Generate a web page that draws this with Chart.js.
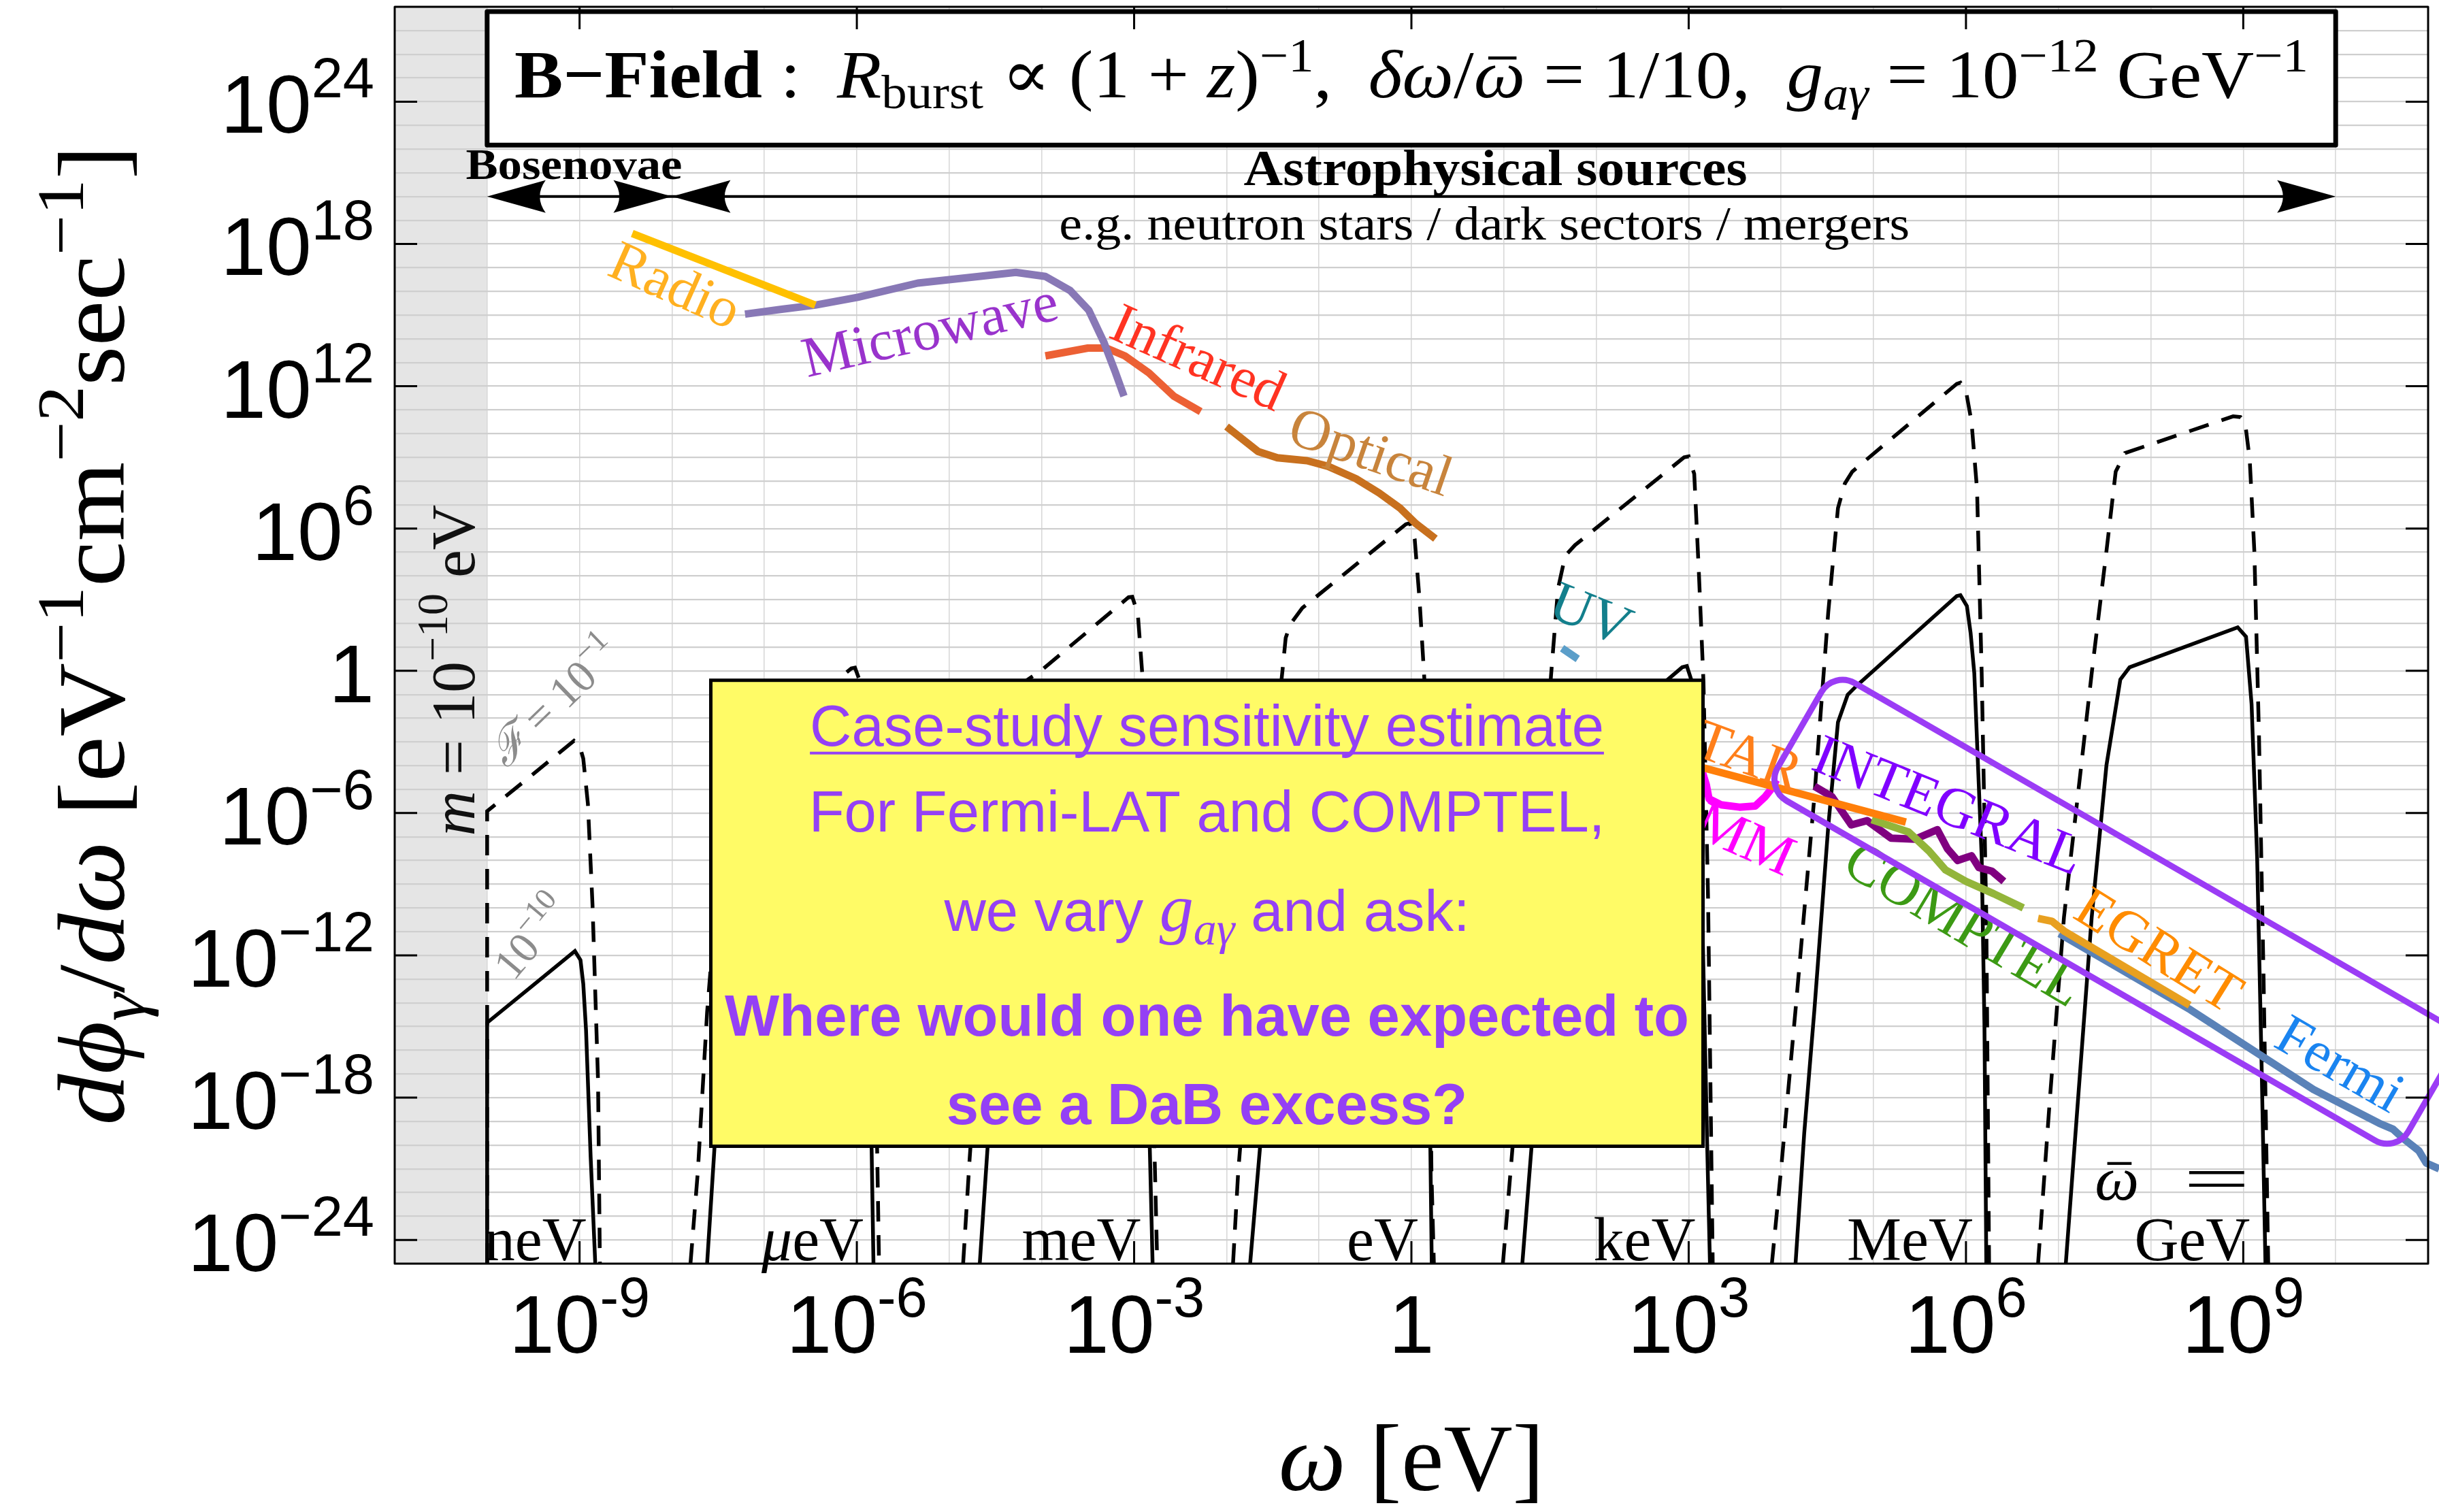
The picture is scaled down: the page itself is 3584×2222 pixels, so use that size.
<!DOCTYPE html>
<html><head><meta charset="utf-8">
<script src="https://cdn.jsdelivr.net/npm/chart.js@4.4.1/dist/chart.umd.min.js"></script>
<style>html,body{margin:0;padding:0;background:#fff;}canvas{display:block;}</style>
</head><body>
<canvas id="c" width="3584" height="2222" style="width:3584px;height:2222px"></canvas>
<script>
// ================= DATA (all values are log10: x = log10(ω/eV), y = log10(dφγ/dω)) =================
const xExpRange = [-11, 11];
const yExpRange = [-25, 28];
const bandExp = [-11, -10];                       // m = 1e-10 eV excluded band
const xTickExps = [-9, -6, -3, 0, 3, 6, 9];
const yTickExps = [24, 18, 12, 6, 0, -6, -12, -18, -24];
const xTickLabels = [['10','-9'],['10','-6'],['10','-3'],['1',''],['10','3'],['10','6'],['10','9']];
const yTickLabels = [['10','24'],['10','18'],['10','12'],['10','6'],['1',''],['10','−6'],['10','−12'],['10','−18'],['10','−24']];
const unitLabels = ['neV','μeV','meV','eV','keV','MeV','GeV'];
const unitExps = [-9, -6, -3, 0, 3, 6, 9];

// DaB signal curves, ℱ = 1e-1 (dashed) and ℱ = 1e-10 (solid)
const neV_F1  = [[-10,-25],[-10,-5.92],[-9.5,-4.35],[-9.06,-2.95],[-9.0,-3.15],[-8.96,-3.7],[-8.91,-5.6],[-8.86,-9.85],[-8.8,-17.3],[-8.78,-25]];
const neV_F10 = [[-10,-25],[-10,-14.84],[-9.5,-13.25],[-9.05,-11.82],[-8.99,-12.2],[-8.96,-13.2],[-8.93,-15.15],[-8.88,-20.5],[-8.83,-25]];
const ueV_F1  = [[-7.8,-25],[-7.72,-21.1],[-7.62,-14.4],[-7.52,-9.6],[-7.44,-6.0],[-7.38,-4.6],[-7.3,-3.9],[-7.2,-3.55],[-6.06,0.1],[-6.02,0.13],[-5.97,-0.4],[-5.93,-2.6],[-5.88,-6.6],[-5.83,-12.5],[-5.78,-20.25],[-5.76,-25]];
const ueV_F10 = [[-7.62,-25],[-7.54,-20.1],[-7.44,-15.0],[-7.38,-13.6],[-7.3,-12.9],[-7.2,-12.55],[-6.06,-8.9],[-6.02,-8.87],[-5.97,-9.4],[-5.93,-11.6],[-5.88,-15.6],[-5.84,-20.2],[-5.82,-25]];
const meV_F1  = [[-4.85,-25],[-4.78,-20.6],[-4.67,-14.5],[-4.57,-10.2],[-4.48,-6.3],[-4.4,-2.4],[-4.32,-1.1],[-4.2,-0.5],[-4.0,0.03],[-3.06,3.1],[-3.02,3.12],[-2.96,2.4],[-2.91,-0.23],[-2.86,-5],[-2.82,-11.5],[-2.78,-20.2],[-2.75,-25]];
const meV_F10 = [[-4.67,-25],[-4.57,-19.2],[-4.48,-15.3],[-4.4,-11.4],[-4.32,-10.1],[-4.2,-9.5],[-4.0,-8.97],[-3.06,-5.9],[-3.02,-5.88],[-2.97,-6.5],[-2.92,-9],[-2.87,-14],[-2.83,-20.2],[-2.8,-25]];
const eV_F1   = [[-1.93,-25],[-1.875,-21.2],[-1.76,-15.5],[-1.64,-11.2],[-1.49,-3.4],[-1.395,0.0],[-1.36,1.39],[-1.31,1.96],[-1.18,2.65],[-0.06,6.18],[-0.015,6.23],[0.036,5.54],[0.088,3.0],[0.14,-0.34],[0.18,-8.5],[0.217,-21.2],[0.243,-25]];
const eV_F10  = [[-1.745,-25],[-1.64,-20.2],[-1.49,-12.4],[-1.395,-9.0],[-1.36,-7.6],[-1.31,-7.05],[-1.18,-6.35],[-0.06,-2.82],[-0.015,-2.78],[0.03,-3.45],[0.08,-6.0],[0.13,-9.4],[0.17,-15],[0.205,-20.2],[0.22,-25]];
const keV_F1  = [[0.99,-25],[1.095,-20.06],[1.16,-17.4],[1.36,-8.4],[1.51,-0.23],[1.586,3.46],[1.664,4.85],[1.77,5.3],[2.95,9.0],[3.0,9.04],[3.06,8.3],[3.11,4.15],[3.16,-0.46],[3.21,-9.68],[3.26,-25]];
const keV_F10 = [[1.2,-25],[1.3,-20.06],[1.36,-17.4],[1.51,-9.2],[1.586,-5.55],[1.664,-4.15],[1.77,-3.7],[2.93,0.15],[2.98,0.2],[3.03,-0.4],[3.09,-3.5],[3.14,-9],[3.2,-20],[3.23,-25]];
const MeV_F1  = [[3.9,-25],[4.0,-21],[4.156,-14.3],[4.36,-5.3],[4.51,2.47],[4.615,6.86],[4.69,7.9],[4.77,8.4],[5.9,12.1],[5.94,12.15],[6.0,11.8],[6.06,10.5],[6.12,7.63],[6.17,-0.1],[6.22,-10.4],[6.25,-25]];
const MeV_F10 = [[4.156,-25],[4.25,-19.5],[4.36,-14.3],[4.51,-6.56],[4.615,-2.17],[4.72,-1.01],[4.82,-0.62],[5.9,3.15],[5.94,3.19],[6.01,2.73],[6.05,1.6],[6.09,-0.1],[6.17,-7.85],[6.2,-15],[6.22,-25]];
const GeV_F1  = [[6.78,-25],[6.905,-18.2],[7.06,-10.4],[7.21,-5.27],[7.36,-0.11],[7.52,5.05],[7.62,8.4],[7.72,9.18],[8.89,10.73],[8.97,10.7],[9.02,10.47],[9.07,8.9],[9.12,5.05],[9.17,-2.7],[9.22,-13],[9.27,-25]];
const GeV_F10 = [[7.08,-25],[7.21,-18.2],[7.36,-10.4],[7.52,-3.98],[7.67,-0.37],[7.77,0.15],[8.94,1.83],[9.03,1.44],[9.09,-1.4],[9.15,-7.85],[9.2,-16.9],[9.24,-25]];

// Telescope / background sensitivity curves
const radioSens     = [[-8.43,18.44],[-6.45,15.42]];
const microwaveSens = [[-7.21,15.04],[-6.8,15.25],[-6.45,15.42],[-5.99,15.75],[-5.34,16.35],[-4.68,16.63],[-4.28,16.8],[-3.96,16.63],[-3.69,16.03],[-3.49,15.2],[-3.33,13.88],[-3.2,12.56],[-3.11,11.58]];
const infraredSens  = [[-3.96,13.28],[-3.5,13.61],[-3.3,13.61],[-3.1,13.28],[-2.84,12.56],[-2.57,11.58],[-2.28,10.93]];
const opticalSens   = [[-2.0,10.3],[-1.66,9.25],[-1.45,8.98],[-1.13,8.86],[-0.9,8.62],[-0.6,8.1],[-0.35,7.5],[-0.12,6.85],[0.05,6.2],[0.26,5.57]];
const uvSens        = [[1.63,0.95],[1.8,0.5]];
const nustarSens    = [[3.1,-4.03],[5.35,-6.38]];
const xmmSens       = [[3.15,-4.3],[3.19,-4.8],[3.22,-5.4],[3.35,-5.65],[3.55,-5.75],[3.72,-5.7],[3.83,-5.3],[3.9,-4.95],[3.95,-4.6]];
const integralSens  = [[4.36,-4.87],[4.55,-5.31],[4.76,-6.5],[4.93,-6.32],[5.19,-7.06],[5.45,-7.1],[5.69,-6.7],[5.8,-7.51],[5.91,-8.0],[6.06,-7.8],[6.14,-8.3],[6.28,-8.45],[6.41,-8.88]];
const comptelSens   = [[4.98,-6.28],[5.38,-6.8],[5.6,-7.6],[5.78,-8.4],[6.0,-8.88],[6.3,-9.4],[6.62,-10.0]];
const egretSens     = [[6.78,-10.44],[6.93,-10.56],[7.07,-11.0],[8.42,-14.1]];
const fermiSens     = [[7.01,-11.08],[8.43,-14.3],[9.76,-17.66],[10.47,-19.08],[10.62,-19.33],[10.73,-19.72],[10.9,-20.24],[10.98,-20.76],[11.12,-21.0]];

// ================= STYLE / ANNOTATION CONFIG =================
const SERIF = '"Liberation Serif","DejaVu Serif",serif';
const SANS = '"Liberation Sans","DejaVu Sans",Arial,sans-serif';
const PURPLE = '#9440F5';

const toXY = arr => arr.map(([a, b]) => ({ x: Math.pow(10, a), y: Math.pow(10, b) }));

const signalCurves = [
  ['neV', neV_F1, neV_F10], ['μeV', ueV_F1, ueV_F10], ['meV', meV_F1, meV_F10], ['eV', eV_F1, eV_F10],
  ['keV', keV_F1, keV_F10], ['MeV', MeV_F1, MeV_F10], ['GeV', GeV_F1, GeV_F10]
];
const sensCurves = [
  { name: 'Radio', d: radioSens, c: '#FFC000', order: 1 },
  { name: 'Microwave', d: microwaveSens, c: '#8878B6', order: 2 },
  { name: 'Infrared', d: infraredSens, c: '#EC6034', order: 3 },
  { name: 'Optical', d: opticalSens, c: '#C8701E', order: 3 },
  { name: 'UV', d: uvSens, c: '#5B9EC9', order: 3 },
  { name: 'NuSTAR', d: nustarSens, c: '#FF7F0A', order: 2 },
  { name: 'XMM', d: xmmSens, c: '#FF00FF', order: 3 },
  { name: 'INTEGRAL', d: integralSens, c: '#800080', order: 3 },
  { name: 'COMPTEL', d: comptelSens, c: '#93B53A', order: 2 },
  { name: 'EGRET', d: egretSens, c: '#E8A020', order: 1 },
  { name: 'Fermi', d: fermiSens, c: '#5A82B8', order: 2, clip: false }
];

const datasets = [];
sensCurves.forEach(s => datasets.push({
  label: s.name, data: toXY(s.d), borderColor: s.c, borderWidth: 11, order: s.order,
  pointRadius: 0, fill: false, clip: s.clip === false ? false : undefined, borderJoinStyle: 'round'
}));
signalCurves.forEach(([n, f1, f10]) => {
  datasets.push({ label: n + ' ℱ=10^-1', data: toXY(f1), borderColor: '#000', borderWidth: 5.5, borderDash: [30, 20], order: 10, pointRadius: 0, fill: false });
  datasets.push({ label: n + ' ℱ=10^-10', data: toXY(f10), borderColor: '#000', borderWidth: 5.5, order: 10, pointRadius: 0, fill: false });
});

const sourceLabels = [
  { t: 'Radio', x: -7.98, y: 16.12, rot: 24, c: '#FFB020' },
  { t: 'Microwave', x: -5.2, y: 14.23, rot: -13, c: '#9933CC' },
  { t: 'Infrared', x: -2.32, y: 13.08, rot: 24, c: '#FF3322' },
  { t: 'Optical', x: -0.45, y: 9.1, rot: 19, c: '#C8843C' },
  { t: 'UV', x: 1.93, y: 2.26, rot: 22, c: '#137F8C' },
  { t: 'NuSTAR', x: 4.19, y: -4.5, rot: 20, c: '#FF7F1A', align: 'right' },
  { t: 'XMM', x: 4.1, y: -8.1, rot: 24, c: '#FF00FF', align: 'right' },
  { t: 'INTEGRAL', x: 5.8, y: -5.8, rot: 22, c: '#8000FF' },
  { t: 'COMPTEL', x: 5.96, y: -10.8, rot: 31, c: '#3C9A14' },
  { t: 'EGRET', x: 8.07, y: -11.9, rot: 32, c: '#FF8C00' },
  { t: 'Fermi', x: 10.03, y: -16.7, rot: 30, c: '#1A84F0' }
];
const yellowBox = { x0: -7.58, x1: 3.155, y0: -0.4, y1: -20.05 };
const titleBox = { x0: -10, x1: 10, y0: 27.8, y1: 22.17 };
const purpleRect = { tl: [4.567, -0.006], tr: [11.39, -15.357], bl: [3.831, -4.97], r: 36 };

// ================= DRAW HELPERS =================
function fontOf(r) { return ((r.st || '') + ' ' + r.s + 'px ' + (r.f || SERIF)).trim(); }
function drawRich(ctx, runs, x, y, o) {
  o = o || {};
  ctx.save();
  ctx.translate(x, y);
  if (o.rot) ctx.rotate(o.rot * Math.PI / 180);
  let w = 0;
  runs.forEach(r => { ctx.font = fontOf(r); r._w = ctx.measureText(r.t).width + (r.gap || 0); w += r._w; });
  const sx = o.width ? o.width / w : 1;
  if (sx !== 1) ctx.scale(sx, 1);
  let cx = o.align === 'center' ? -w / 2 : (o.align === 'right' ? -w : 0);
  const x0 = cx;
  ctx.textAlign = 'left';
  ctx.textBaseline = o.baseline || 'alphabetic';
  runs.forEach(r => {
    ctx.font = fontOf(r);
    ctx.fillStyle = r.c || o.color || '#000';
    ctx.fillText(r.t, cx, r.dy || 0);
    if (r.bar) ctx.fillRect(cx + r._w * 0.28, (r.dy || 0) - r.s * 0.6, r._w * 0.55, r.s * 0.045);
    cx += r._w;
  });
  if (o.underline) { ctx.fillStyle = o.color || '#000'; ctx.fillRect(x0, o.underline, w, 4); }
  ctx.restore();
  return w * sx;
}
function arrowHead(ctx, x, y, dir) {
  const L = 86, H = 24;
  ctx.beginPath();
  ctx.moveTo(x, y);
  ctx.lineTo(x - dir * L, y - H);
  ctx.quadraticCurveTo(x - dir * L * 0.8, y, x - dir * L, y + H);
  ctx.closePath();
  ctx.fill();
}
function roundedPoly(ctx, pts, r) {
  const n = pts.length;
  ctx.beginPath();
  ctx.moveTo((pts[n - 1][0] + pts[0][0]) / 2, (pts[n - 1][1] + pts[0][1]) / 2);
  for (let i = 0; i < n; i++) { const p = pts[i], q = pts[(i + 1) % n]; ctx.arcTo(p[0], p[1], q[0], q[1], r); }
  ctx.closePath();
}

const overlay = {
  id: 'overlay',
  beforeDraw(chart) {
    const { ctx, chartArea: a } = chart;
    const X = e => chart.scales.x.getPixelForValue(Math.pow(10, e));
    ctx.save();
    ctx.fillStyle = '#fff'; ctx.fillRect(0, 0, chart.width, chart.height);
    ctx.fillStyle = '#e5e5e5';
    ctx.fillRect(X(bandExp[0]), a.top, X(bandExp[1]) - X(bandExp[0]), a.bottom - a.top);
    ctx.restore();
  },
  afterDraw(chart) {
    const { ctx, chartArea: a } = chart;
    const X = e => chart.scales.x.getPixelForValue(Math.pow(10, e));
    const Y = e => chart.scales.y.getPixelForValue(Math.pow(10, e));
    ctx.save();

    // --- source labels
    sourceLabels.forEach(l => drawRich(ctx, [{ t: l.t, s: 84 }], X(l.x), Y(l.y), { rot: l.rot, align: l.align || 'center', baseline: 'middle', color: l.c }));
    // --- ℱ labels
    const G = '#8c8c8c';
    drawRich(ctx, [{ t: 'ℱ', s: 66, st: 'italic' }, { t: ' = 10', s: 66 }, { t: '−1', s: 46, dy: -24 }], X(-9.25), Y(-1.4), { rot: -44, align: 'center', baseline: 'middle', color: G });
    drawRich(ctx, [{ t: '10', s: 64 }, { t: '−10', s: 45, dy: -23 }], X(-9.49), Y(-11.33), { rot: -50, align: 'center', baseline: 'middle', color: G });
    // --- mass label
    drawRich(ctx, [{ t: 'm', s: 92, st: 'italic' }, { t: ' = 10', s: 92 }, { t: '−10', s: 64, dy: -40 }, { t: ' eV', s: 92 }], X(-10.138), Y(0.02), { rot: -90, align: 'center', color: '#111' });
    // --- unit labels at ω̄
    unitLabels.forEach((u, i) => {
      const px = X(unitExps[i]) + 10, py = Y(-24.85);
      const runs = u === 'μeV' ? [{ t: 'μ', s: 90, st: 'italic' }, { t: 'eV', s: 90 }] : [{ t: u, s: 90 }];
      drawRich(ctx, runs, px, py, { align: 'right' });
      if (u === 'GeV') {
        drawRich(ctx, [{ t: 'ω', s: 92, st: 'italic', bar: true }], px - 228, Y(-22.3), { align: 'left' });
        drawRich(ctx, [{ t: '=', s: 92 }], px, Y(-22.3), { align: 'right', width: 98 });
      }
    });

    // --- yellow box
    const bx0 = X(yellowBox.x0), bx1 = X(yellowBox.x1), by0 = Y(yellowBox.y0), by1 = Y(yellowBox.y1);
    ctx.fillStyle = '#FFFB66';
    ctx.fillRect(bx0, by0, bx1 - bx0, by1 - by0);
    ctx.lineWidth = 5; ctx.strokeStyle = '#000';
    ctx.strokeRect(bx0, by0, bx1 - bx0, by1 - by0);
    const bc = (bx0 + bx1) / 2;
    drawRich(ctx, [{ t: 'Case-study sensitivity estimate', s: 85, f: SANS }], bc, by0 + 96, { align: 'center', color: PURPLE, underline: 9 });
    drawRich(ctx, [{ t: 'For Fermi-LAT and COMPTEL,', s: 85, f: SANS }], bc, by0 + 222, { align: 'center', color: PURPLE });
    drawRich(ctx, [{ t: 'we vary ', s: 85, f: SANS }, { t: 'g', s: 100, st: 'italic' }, { t: 'aγ', s: 68, st: 'italic', dy: 20 }, { t: ' and ask:', s: 85, f: SANS }], bc, by0 + 368, { align: 'center', color: PURPLE });
    drawRich(ctx, [{ t: 'Where would one have expected to', s: 85, st: 'bold', f: SANS }], bc, by0 + 522, { align: 'center', color: PURPLE });
    drawRich(ctx, [{ t: 'see a DaB excess?', s: 85, st: 'bold', f: SANS }], bc, by0 + 652, { align: 'center', color: PURPLE });

    // --- purple rounded rectangle
    const tl = [X(purpleRect.tl[0]), Y(purpleRect.tl[1])];
    const tr = [X(purpleRect.tr[0]), Y(purpleRect.tr[1])];
    const bl = [X(purpleRect.bl[0]), Y(purpleRect.bl[1])];
    const br = [tr[0] + bl[0] - tl[0], tr[1] + bl[1] - tl[1]];
    roundedPoly(ctx, [tl, tr, br, bl], purpleRect.r);
    ctx.lineWidth = 9; ctx.strokeStyle = '#9B3CF5'; ctx.lineJoin = 'round';
    ctx.stroke();

    // --- title box
    const tx0 = X(titleBox.x0), tx1 = X(titleBox.x1), ty0 = Y(titleBox.y0), ty1 = Y(titleBox.y1);
    ctx.fillStyle = '#fff';
    ctx.fillRect(tx0, ty0, tx1 - tx0, ty1 - ty0);
    ctx.lineWidth = 7; ctx.strokeStyle = '#000';
    ctx.strokeRect(tx0, ty0, tx1 - tx0, ty1 - ty0);
    const B = 100, S = 70;
    drawRich(ctx, [
      { t: 'B−Field', s: B, st: 'bold' }, { t: ' :  ', s: B }, { t: 'R', s: B, st: 'italic' }, { t: 'burst', s: S, dy: 16 },
      { t: ' ∝ (1 + ', s: B }, { t: 'z', s: B, st: 'italic' }, { t: ')', s: B }, { t: '−1', s: S, dy: -38 }, { t: ',  ', s: B },
      { t: 'δω', s: B, st: 'italic' }, { t: '/', s: B }, { t: 'ω', s: B, st: 'italic', bar: true }, { t: ' = 1/10,  ', s: B },
      { t: 'g', s: B, st: 'italic' }, { t: 'aγ', s: S, st: 'italic', dy: 18 }, { t: ' = 10', s: B }, { t: '−12', s: S, dy: -38 },
      { t: ' GeV', s: B }, { t: '−1', s: S, dy: -38 }
    ], (tx0 + tx1) / 2, ty0 + 126, { align: 'center', width: 2636 });

    // --- arrows
    const ay = Y(20);
    ctx.fillStyle = '#000'; ctx.strokeStyle = '#000'; ctx.lineWidth = 4;
    ctx.beginPath(); ctx.moveTo(X(-10) + 40, ay); ctx.lineTo(X(10) - 40, ay); ctx.stroke();
    arrowHead(ctx, X(-10), ay, -1); arrowHead(ctx, X(-8), ay, 1);
    arrowHead(ctx, X(-8), ay, -1); arrowHead(ctx, X(10), ay, 1);
    drawRich(ctx, [{ t: 'Bosenovae', s: 64, st: 'bold' }], X(-9.06), Y(20.74), { align: 'center', width: 318 });
    drawRich(ctx, [{ t: 'Astrophysical sources', s: 74, st: 'bold' }], X(0.91), Y(20.48), { align: 'center', width: 740 });
    drawRich(ctx, [{ t: 'e.g. neutron stars / dark sectors / mergers', s: 70 }], X(0.79), Y(18.19), { align: 'center', width: 1250 });

    // --- frame & inward ticks
    ctx.strokeStyle = '#000'; ctx.lineWidth = 3;
    ctx.strokeRect(a.left, a.top, a.right - a.left, a.bottom - a.top);
    const TL = 33;
    ctx.beginPath();
    xTickExps.forEach(e => { const px = X(e); ctx.moveTo(px, a.top); ctx.lineTo(px, a.top + TL); ctx.moveTo(px, a.bottom); ctx.lineTo(px, a.bottom - TL); });
    yTickExps.forEach(e => { const py = Y(e); ctx.moveTo(a.left, py); ctx.lineTo(a.left + TL, py); ctx.moveTo(a.right, py); ctx.lineTo(a.right - TL, py); });
    ctx.stroke();

    // --- tick labels
    ctx.fillStyle = '#000'; ctx.textAlign = 'left'; ctx.textBaseline = 'alphabetic';
    const MS = 120, SS = 83;
    yTickExps.forEach((e, i) => {
      const py = Y(e), [m, s] = yTickLabels[i];
      ctx.font = MS + 'px ' + SANS; const wm = ctx.measureText(m).width;
      ctx.font = SS + 'px ' + SANS; const ws = s ? ctx.measureText(s).width : 0;
      const right = a.left - 30;
      ctx.font = MS + 'px ' + SANS; ctx.fillText(m, right - ws - wm, py + 46);
      if (s) { ctx.font = SS + 'px ' + SANS; ctx.fillText(s, right - ws, py - 6); }
    });
    xTickExps.forEach((e, i) => {
      const px = X(e), [m, s] = xTickLabels[i];
      ctx.font = MS + 'px ' + SANS; const wm = ctx.measureText(m).width;
      ctx.font = SS + 'px ' + SANS; const ws = s ? ctx.measureText(s).width : 0;
      const x0 = px - (wm + ws) / 2;
      ctx.font = MS + 'px ' + SANS; ctx.fillText(m, x0, a.bottom + 131);
      if (s) { ctx.font = SS + 'px ' + SANS; ctx.fillText(s, x0 + wm, a.bottom + 78); }
    });

    // --- axis titles
    drawRich(ctx, [{ t: 'ω', s: 140, st: 'italic' }, { t: ' [eV]', s: 140 }], (a.left + a.right) / 2, 2190, { align: 'center' });
    drawRich(ctx, [
      { t: 'd', s: 140, st: 'italic' }, { t: 'ϕ', s: 140, st: 'italic' }, { t: 'γ', s: 98, st: 'italic', dy: 30 },
      { t: '/', s: 140 }, { t: 'dω', s: 140, st: 'italic' }, { t: ' [eV', s: 140 }, { t: '−1', s: 98, dy: -60 },
      { t: 'cm', s: 140 }, { t: '−2', s: 98, dy: -60 }, { t: 'sec', s: 140 }, { t: '−1', s: 98, dy: -60 }, { t: ']', s: 140 }
    ], 182, (a.top + a.bottom) / 2, { rot: -90, align: 'center', width: 1440 });

    ctx.restore();
  }
};

// ================= CHART =================
const gridX = [], gridY = [];
for (let e = xExpRange[0]; e <= xExpRange[1]; e++) gridX.push(e);
for (let e = yExpRange[0]; e <= yExpRange[1]; e++) gridY.push(e);

new Chart(document.getElementById('c').getContext('2d'), {
  type: 'line',
  data: { datasets },
  options: {
    responsive: false, animation: false, devicePixelRatio: 1,
    layout: { padding: { left: 580, right: 16, top: 10, bottom: 365 } },
    plugins: { legend: { display: false }, tooltip: { enabled: false }, title: { display: false } },
    elements: { point: { radius: 0, hoverRadius: 0 }, line: { tension: 0, borderCapStyle: 'butt' } },
    scales: {
      x: {
        type: 'logarithmic', min: Math.pow(10, xExpRange[0]), max: Math.pow(10, xExpRange[1]),
        afterBuildTicks: ax => { ax.ticks = gridX.map(e => ({ value: Math.pow(10, e) })); },
        ticks: { display: false },
        grid: { color: '#d8d8d8', lineWidth: 1.6, drawTicks: false },
        border: { display: false }
      },
      y: {
        type: 'logarithmic', min: Math.pow(10, yExpRange[0]), max: Math.pow(10, yExpRange[1]),
        afterBuildTicks: ax => { ax.ticks = gridY.map(e => ({ value: Math.pow(10, e) })); },
        ticks: { display: false },
        grid: { color: '#cfcfcf', lineWidth: 2.2, drawTicks: false },
        border: { display: false }
      }
    }
  },
  plugins: [overlay]
});
</script>
</body></html>
